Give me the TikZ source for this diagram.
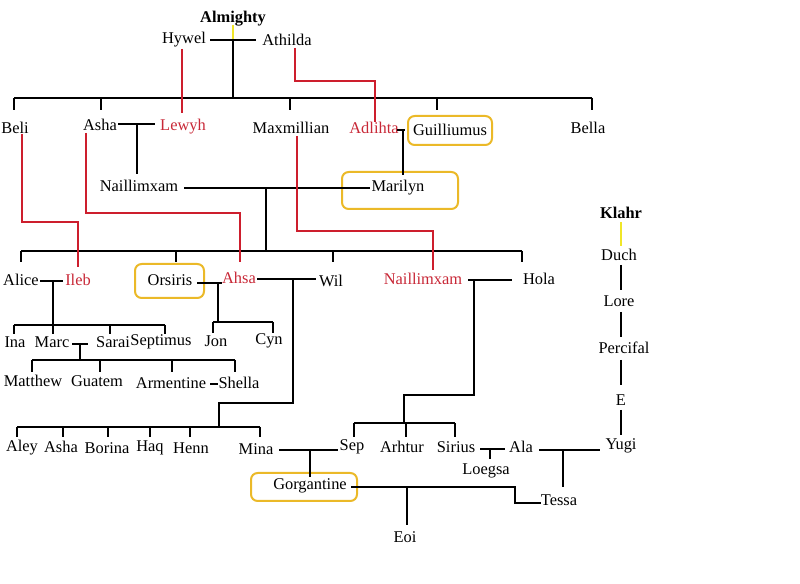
\documentclass[tikz,border=0pt]{standalone}
\usepackage{fontspec}
\setmainfont{Liberation Serif}
\begin{document}
\begin{tikzpicture}[x=0.75pt,y=-0.75pt,
  every node/.style={font=\fontsize{12.3}{14}\selectfont,inner sep=1pt},
  rd/.style={text={rgb,255:red,200;green,40;blue,55}},
  bx/.style={draw={rgb,255:red,235;green,185;blue,40},line width=1.5pt,rounded corners=5pt},
  ln/.style={line width=1.3pt,black},
  rl/.style={line width=1.3pt,draw={rgb,255:red,205;green,30;blue,45}},
  yl/.style={line width=1.3pt,draw={rgb,255:red,240;green,230;blue,40}}]
\useasboundingbox (0,0) rectangle (800,584);
% nodes
\node[font=\fontsize{12.3}{14}\selectfont\bfseries] (alm) at (233,19) {Almighty};
\node (hyw) at (184,40) {Hywel};
\node (ath) at (287,40) {Athilda};
\node (beli) at (15,128) {Beli};
\node (asha) at (100,125) {Asha};
\node[rd] (lew) at (183,127) {Lewyh};
\node (max) at (291,128) {Maxmillian};
\node[rd] (adl) at (374,128) {Adlihta};
\node (gui) at (450,130) {Guilliumus};
\node (bel) at (588,128) {Bella};
\node (nai1) at (139,186) {Naillimxam};
\node (mar) at (398,188) {Marilyn};
\node (ali) at (21,280) {Alice};
\node[rd] (ile) at (78,280) {Ileb};
\node (ors) at (170,280) {Orsiris};
\node[rd] (ahs) at (239,278) {Ahsa};
\node (wil) at (331,281) {Wil};
\node[rd] (nai2) at (423,279) {Naillimxam};
\node (hol) at (539,279) {Hola};
\node (ina) at (15,342) {Ina};
\node (marc) at (52,342) {Marc};
\node (sar) at (113,342) {Sarai};
\node (sep1) at (161,342) {Septimus};
\node (mat) at (33,381) {Matthew};
\node (gua) at (97,381) {Guatem};
\node (arm) at (171,383) {Armentine};
\node (she) at (239,383) {Shella};
\node (jon) at (216,341) {Jon};
\node (cyn) at (269,341) {Cyn};
\node (aley) at (22,448) {Aley};
\node (asha2) at (61,447) {Asha};
\node (bor) at (107,448) {Borina};
\node (haq) at (150,448) {Haq};
\node (hen) at (191,448) {Henn};
\node (min) at (256,449) {Mina};
\node (sep) at (352,447) {Sep};
\node (arh) at (402,447) {Arhtur};
\node (sir) at (456,447) {Sirius};
\node (ala) at (521,447) {Ala};
\node (yug) at (621,446) {Yugi};
\node (loe) at (486,471) {Loegsa};
\node (gor) at (310,486) {Gorgantine};
\node (tes) at (559,500) {Tessa};
\node (eoi) at (405,537) {Eoi};
\node[font=\fontsize{12.3}{14}\selectfont\bfseries] (kla) at (621,213) {Klahr};
\node (duc) at (619,255) {Duch};
\node (lor) at (619,301) {Lore};
\node (per) at (624,348) {Percifal};
\node (e) at (621,400) {E};
% boxes
\draw[bx] (408,116) rectangle (492,145);
\draw[bx] (342,172) rectangle (458,209);
\draw[bx] (135,264) rectangle (204,298);
\draw[bx] (251,473) rectangle (357,501);
% yellow
\draw[yl] (233,25) -- (233,40);
\draw[yl] (621,222) -- (621,246);
% black lines
\draw[ln] (210,40) -- (256,40) (233,40) -- (233,98);
\draw[ln] (14,98) -- (592,98);
\foreach \x in {14,101,290,437,592} \draw[ln] (\x,98) -- (\x,110);
\draw[ln] (118,124) -- (155,124) (137,124) -- (137,174);
\draw[ln] (184,188) -- (370,188) (266,188) -- (266,251);
\draw[ln] (397,130) -- (405,130) (403,130) -- (403,175);
\draw[ln] (21,251) -- (522,251);
\foreach \x in {21,176,333,522} \draw[ln] (\x,251) -- (\x,262);
\draw[ln] (40,281) -- (63,281) (53,281) -- (53,325) (14,325) -- (165,325);
\foreach \x in {14,53,110,165} \draw[ln] (\x,325) -- (\x,334);
\draw[ln] (72,344) -- (88,344) (80,344) -- (80,360) (32,360) -- (235,360);
\foreach \x in {32,100,172,235} \draw[ln] (\x,360) -- (\x,372);
\draw[ln] (210,384) -- (218,384);
\draw[ln] (197,283) -- (222,283) (218,283) -- (218,322) (213,322) -- (273,322) (213,322) -- (213,333) (273,322) -- (273,333);
\draw[ln] (257,279) -- (316,279) (293,279) -- (293,403) -- (219,403) -- (219,427) (17,427) -- (260,427);
\foreach \x in {17,63,108,150,190,260} \draw[ln] (\x,427) -- (\x,437);
\draw[ln] (468,280) -- (512,280) (474,280) -- (474,395) -- (404,395) -- (404,423) (354,423) -- (455,423);
\foreach \x in {354,406,455} \draw[ln] (\x,423) -- (\x,437);
\draw[ln] (279,450) -- (338,450) (310,450) -- (310,477);
\draw[ln] (351,487) -- (515,487) -- (515,503) -- (541,503) (407,487) -- (407,525);
\draw[ln] (480,449) -- (505,449) (490,449) -- (490,459);
\draw[ln] (539,450) -- (600,450) (563,450) -- (563,487);
\foreach \a/\b in {265/290,312/337,360/385,410/435} \draw[ln] (621,\a) -- (621,\b);
% red lines
\draw[rl] (182,49) -- (182,113);
\draw[rl] (295,48) -- (295,81) -- (375,81) -- (375,122);
\draw[rl] (22,134) -- (22,222) -- (78,222) -- (78,267);
\draw[rl] (86,133) -- (86,213) -- (240,213) -- (240,262);
\draw[rl] (297,136) -- (297,231) -- (433,231) -- (433,270);
\end{tikzpicture}
\end{document}
